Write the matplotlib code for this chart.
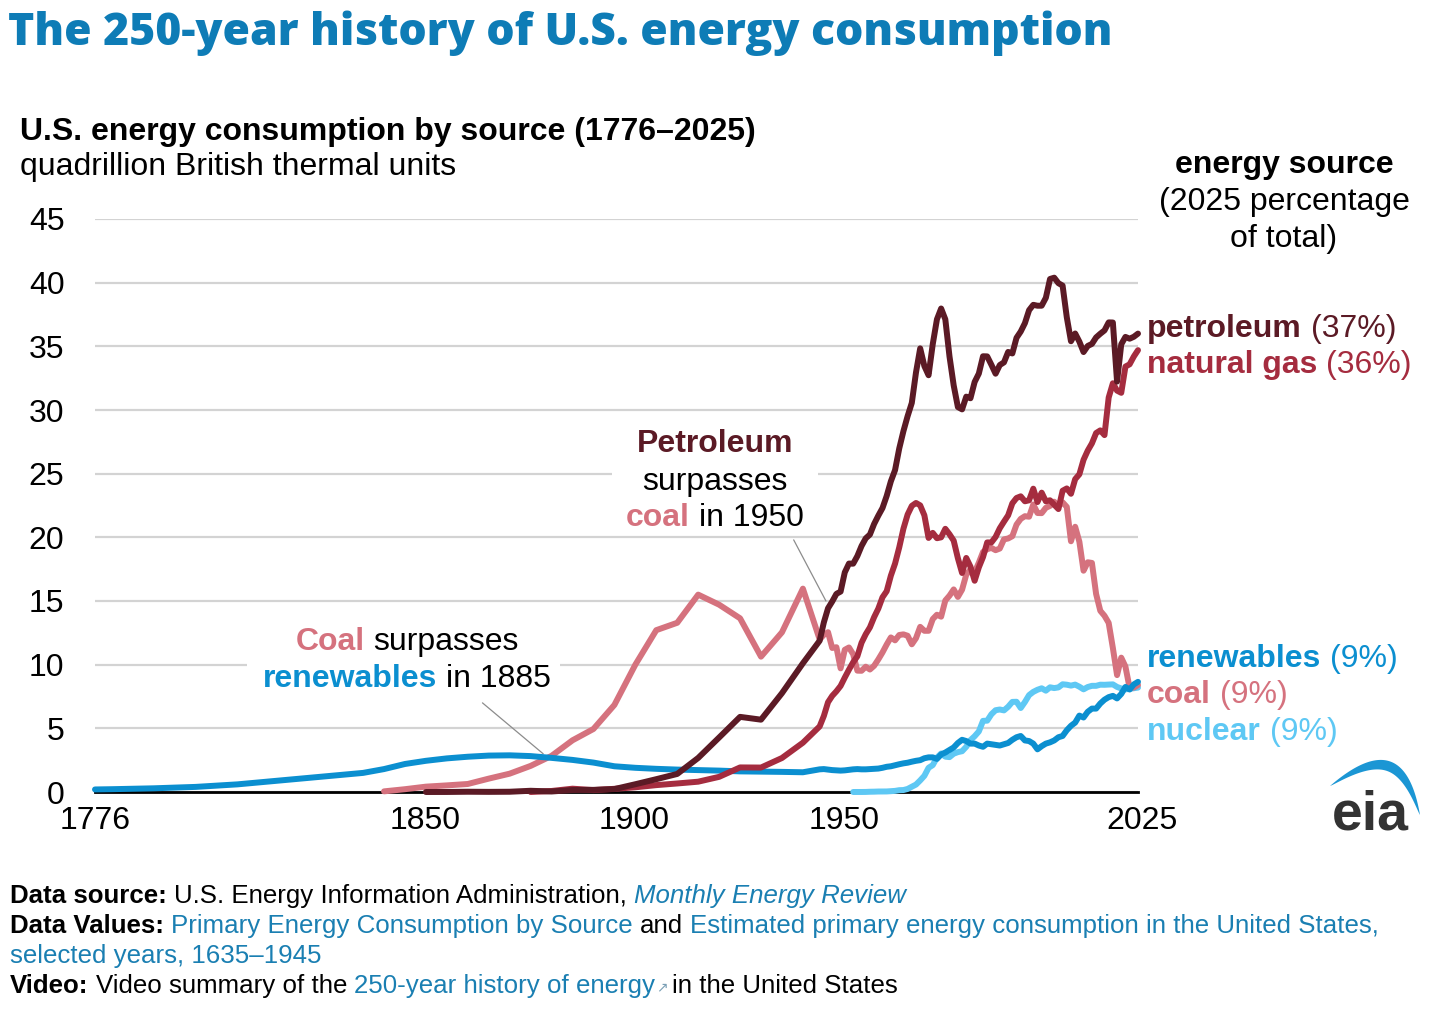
import numpy as np
import matplotlib
matplotlib.use('Agg')
import matplotlib.pyplot as plt
from matplotlib.patches import Rectangle, Polygon
from matplotlib.transforms import ScaledTranslation

# ---- data (quadrillion Btu) ----
nan = np.nan
early_years = [1776, 1780, 1790, 1800, 1810, 1820, 1830, 1840,
               1845, 1850, 1855, 1860, 1865, 1870, 1875, 1880, 1885, 1890, 1895,
               1900, 1905, 1910, 1915, 1920, 1925, 1930, 1935, 1940, 1945]
annual_years = list(range(1949, 2026))

renew_early = [0.20, 0.22, 0.29, 0.40, 0.60, 0.90, 1.20, 1.50,
               1.80, 2.20, 2.45, 2.64, 2.77, 2.86, 2.88, 2.82, 2.68, 2.52, 2.31,
               2.02, 1.90, 1.82, 1.76, 1.72, 1.68, 1.62, 1.60, 1.58, 1.55]
coal_early = [nan, nan, nan, nan, nan, nan, nan, nan,
              0.05, 0.22, 0.42, 0.52, 0.63, 1.05, 1.44, 2.05, 2.84, 4.06, 4.95,
              6.84, 10.00, 12.71, 13.29, 15.50, 14.71, 13.64, 10.63, 12.54, 15.97]
petro_early = [nan, nan, nan, nan, nan, nan, nan, nan,
               nan, nan, 0.00, 0.003, 0.02, 0.011, 0.02, 0.096, 0.04, 0.156, 0.168,
               0.229, 0.61, 1.007, 1.418, 2.676, 4.28, 5.90, 5.68, 7.76, 10.11]
gas_early = [nan, nan, nan, nan, nan, nan, nan, nan,
             nan, nan, nan, nan, nan, nan, nan, 0.00, 0.08, 0.26, 0.15,
             0.25, 0.37, 0.54, 0.67, 0.81, 1.19, 1.93, 1.92, 2.67, 3.87]
nuclear_early = [nan] * len(early_years)

# 1949-2025
renew_annual = [1.78, 1.80, 1.76, 1.72, 1.70, 1.68, 1.70, 1.74, 1.78, 1.80,
                1.78, 1.78, 1.80, 1.82, 1.84, 1.90, 1.98, 2.02, 2.10, 2.18,
                2.25, 2.30, 2.38, 2.45, 2.50, 2.65, 2.72, 2.72, 2.60, 2.95,
                3.10, 3.30, 3.50, 3.85, 4.10, 4.00, 3.80, 3.80, 3.65, 3.55,
                3.80, 3.75, 3.70, 3.65, 3.75, 3.85, 4.10, 4.30, 4.40, 4.05,
                4.00, 3.80, 3.35, 3.60, 3.80, 3.90, 4.05, 4.30, 4.40, 4.85,
                5.20, 5.45, 6.00, 5.85, 6.30, 6.55, 6.55, 6.95, 7.25, 7.45,
                7.55, 7.35, 7.70, 8.25, 8.05, 8.45, 8.65]
coal_annual = [11.98, 12.35, 12.55, 11.31, 11.37, 9.71, 11.17, 11.35, 10.82, 9.53,
               9.52, 9.84, 9.62, 9.91, 10.41, 10.96, 11.58, 12.14, 11.91, 12.33,
               12.38, 12.27, 11.60, 12.08, 12.97, 12.66, 12.66, 13.58, 13.92, 13.77,
               15.04, 15.42, 15.91, 15.32, 15.89, 17.07, 17.48, 17.26, 18.01, 18.85,
               19.07, 19.17, 18.99, 19.12, 19.84, 19.91, 20.09, 21.00, 21.45, 21.66,
               21.62, 22.58, 21.91, 21.90, 22.32, 22.47, 22.80, 22.45, 22.75, 22.39,
               19.69, 20.83, 19.66, 17.38, 18.04, 17.99, 15.55, 14.23, 13.84, 13.28,
               11.31, 9.18, 10.55, 9.85, 8.17, 8.20, 8.40]
petro_annual = [11.88, 13.32, 14.43, 14.96, 15.56, 15.74, 17.25, 17.94, 17.93, 18.53,
                19.32, 19.92, 20.22, 21.05, 21.70, 22.30, 23.25, 24.40, 25.28, 26.98,
                28.34, 29.52, 30.56, 32.95, 34.84, 33.45, 32.73, 35.17, 37.12, 37.97,
                37.12, 34.20, 31.93, 30.23, 30.05, 31.05, 30.92, 32.20, 32.86, 34.22,
                34.21, 33.55, 32.85, 33.53, 33.74, 34.56, 34.44, 35.67, 36.16, 36.82,
                37.84, 38.26, 38.19, 38.19, 38.81, 40.29, 40.39, 39.96, 39.77, 37.28,
                35.40, 36.01, 35.37, 34.55, 35.03, 35.19, 35.70, 35.99, 36.25, 36.88,
                36.87, 32.23, 35.16, 35.74, 35.60, 35.75, 36.00]
gas_annual = [5.15, 5.97, 7.05, 7.55, 7.91, 8.33, 8.99, 9.61, 10.19, 10.66,
              11.72, 12.39, 12.93, 13.73, 14.40, 15.29, 15.77, 16.99, 17.94, 19.21,
              20.68, 21.79, 22.47, 22.70, 22.51, 21.73, 19.95, 20.35, 19.93, 20.00,
              20.67, 20.24, 19.74, 18.36, 17.20, 18.38, 17.70, 16.59, 17.64, 18.45,
              19.60, 19.60, 20.03, 20.71, 21.23, 21.73, 22.67, 23.09, 23.22, 22.83,
              22.91, 23.82, 22.77, 23.51, 22.83, 22.91, 22.56, 22.22, 23.66, 23.84,
              23.42, 24.57, 24.95, 26.09, 26.81, 27.38, 28.19, 28.40, 28.03, 30.98,
              32.10, 31.52, 31.35, 33.41, 33.59, 34.20, 34.70]
nuclear_annual = [nan, nan, nan, nan, nan, nan, nan, nan, 0.000, 0.002,
                  0.002, 0.006, 0.020, 0.026, 0.038, 0.040, 0.043, 0.064, 0.088, 0.142,
                  0.154, 0.239, 0.413, 0.584, 0.910, 1.272, 1.900, 2.111, 2.702, 3.024,
                  2.776, 2.739, 3.008, 3.131, 3.203, 3.553, 4.076, 4.380, 4.754, 5.587,
                  5.602, 6.104, 6.422, 6.479, 6.410, 6.694, 7.075, 7.087, 6.597, 7.068,
                  7.610, 7.862, 8.029, 8.145, 7.959, 8.222, 8.161, 8.215, 8.459, 8.426,
                  8.355, 8.434, 8.269, 8.062, 8.244, 8.338, 8.337, 8.427, 8.419, 8.438,
                  8.452, 8.251, 8.131, 8.061, 8.100, 8.150, 8.200]

label_names = ['petroleum', 'natural gas', 'renewables', 'coal', 'nuclear']
label_pcts = [37, 36, 9, 9, 9]
x_ticks = [1776, 1850, 1900, 1950, 2025]
y_ticks = [0, 5, 10, 15, 20, 25, 30, 35, 40, 45]

# ---- style ----
c_title = '#0e7cb6'
c_pet = '#5b1a25'
c_gas = '#a52c3f'
c_coal = '#d5727e'
c_ren = '#0b8fd0'
c_nuc = '#5ec8f4'
c_link = '#1a7fb2'
FAM = ['Liberation Sans', 'DejaVu Sans']
plt.rcParams['font.family'] = FAM

W, H = 1456, 1013
fig = plt.figure(figsize=(W / 100, H / 100), dpi=100)


def fx(px):
    return px / W


def fy(py):
    return 1 - py / H


ax = fig.add_axes([fx(95), fy(792), 1043 / W, 573 / H])

years = np.array(early_years + annual_years, dtype=float)
series = [
    (nuclear_early + nuclear_annual, c_nuc, 2),
    (coal_early + coal_annual, c_coal, 3),
    (renew_early + renew_annual, c_ren, 4),
    (gas_early + gas_annual, c_gas, 5),
    (petro_early + petro_annual, c_pet, 6),
]
for vals, col, z in series:
    v = np.array(vals, dtype=float)
    m = ~np.isnan(v)
    ax.plot(years[m], v[m], color=col, lw=4.3, zorder=z, clip_on=False,
            solid_joinstyle='round', solid_capstyle='round')

ax.set_xlim(1776, 2025)
ax.set_ylim(0, 45)
ax.set_yticks(y_ticks)
ax.set_xticks(x_ticks)
ax.set_axisbelow(True)
ax.grid(axis='y', color='#d3d3d3', lw=1.6)
for s in ['top', 'right', 'left']:
    ax.spines[s].set_visible(False)
ax.spines['bottom'].set_linewidth(2)
ax.spines['bottom'].set_zorder(1.5)
ax.tick_params(axis='both', length=0, labelsize=23)
ax.tick_params(axis='y', pad=22)
ax.tick_params(axis='x', pad=10)
for lab in ax.get_xticklabels()[1:4]:
    lab.set_transform(lab.get_transform() + ScaledTranslation(0.2, 0, fig.dpi_scale_trans))
ax.get_xticklabels()[-1].set_transform(
    ax.get_xticklabels()[-1].get_transform() + ScaledTranslation(0.04, 0, fig.dpi_scale_trans))

# white backgrounds behind the annotations
for x0, y0, x1, y1 in [(247, 616, 560, 702), (612, 418, 818, 532)]:
    ax.add_patch(Rectangle((fx(x0), fy(y1)), fx(x1) - fx(x0), fy(y0) - fy(y1),
                           transform=fig.transFigure, facecolor='white',
                           edgecolor='none', zorder=1, clip_on=False))

# leader lines
ax.annotate('', xy=(1883, 3.0), xytext=(1868.5, 7.0),
            arrowprops=dict(arrowstyle='-', color='#8c8c8c', lw=0.9,
                            shrinkA=0, shrinkB=0))
ax.annotate('', xy=(1950.5, 15.0), xytext=(1942.8, 19.8),
            arrowprops=dict(arrowstyle='-', color='#8c8c8c', lw=0.9,
                            shrinkA=0, shrinkB=0))

renderer = fig.canvas.get_renderer()


def space_width(size, family):
    a = fig.text(0, 0, 'x x', fontsize=size, family=family)
    b = fig.text(0, 0, 'xx', fontsize=size, family=family)
    w = a.get_window_extent(renderer).width - b.get_window_extent(renderer).width
    a.remove()
    b.remove()
    return w


def rich(x, y, parts, size, ha='left', family=FAM):
    # parts: (text, color, weight, style, gap_before)
    sp = space_width(size, family)
    items = []
    for s, c, wgt, sty, gap in parts:
        t = fig.text(0, fy(y), s, color=c, fontweight=wgt, fontstyle=sty,
                     fontsize=size, family=family, va='baseline')
        items.append((t, t.get_window_extent(renderer).width, gap))
    total = sum(w for _, w, _ in items) + sp * sum(1 for _, _, g in items if g)
    cur = x - total / 2 if ha == 'center' else x
    for t, w, gap in items:
        if gap:
            cur += sp
        t.set_x(fx(cur))
        cur += w
    return cur


# titles
fig.text(fx(8), fy(45), 'The 250-year history of U.S. energy consumption',
         family=['Open Sans', 'DejaVu Sans'], fontweight=800, fontsize=32,
         color=c_title, va='baseline')
fig.text(fx(20), fy(140), 'U.S. energy consumption by source (1776\u20132025)',
         fontsize=23, fontweight='bold', va='baseline')
fig.text(fx(20), fy(175), 'quadrillion British thermal units', fontsize=23, va='baseline')

fig.text(fx(1284), fy(173), 'energy source', fontsize=23, fontweight='bold',
         ha='center', va='baseline')
fig.text(fx(1284), fy(210), '(2025 percentage', fontsize=23, ha='center', va='baseline')
fig.text(fx(1284), fy(247), 'of total)', fontsize=23, ha='center', va='baseline')

# series labels at the right
lab_cols = [c_pet, c_gas, c_ren, c_coal, c_nuc]
lab_base = [337, 373, 667, 703, 740]
for name, pct, col, yb in zip(label_names, label_pcts, lab_cols, lab_base):
    rich(1147, yb, [(name, col, 'bold', 'normal', False),
                    ('(%d%%)' % pct, col, 'normal', 'normal', True)], 23)

# annotations
rich(407, 650, [('Coal', c_coal, 'bold', 'normal', False),
                ('surpasses', 'black', 'normal', 'normal', True)], 23, ha='center')
rich(407, 687, [('renewables', c_ren, 'bold', 'normal', False),
                ('in 1885', 'black', 'normal', 'normal', True)], 23, ha='center')
rich(715, 452, [('Petroleum', c_pet, 'bold', 'normal', False)], 23, ha='center')
rich(715, 490, [('surpasses', 'black', 'normal', 'normal', False)], 23, ha='center')
rich(715, 526, [('coal', c_coal, 'bold', 'normal', False),
                ('in 1950', 'black', 'normal', 'normal', True)], 23, ha='center')

# footer
fs = 18.65
rich(10, 903, [('Data source:', 'black', 'bold', 'normal', False),
               ('U.S. Energy Information Administration,', 'black', 'normal', 'normal', True),
               ('Monthly Energy Review', c_link, 'normal', 'italic', True)], fs)
rich(10, 933, [('Data Values:', 'black', 'bold', 'normal', False),
               ('Primary Energy Consumption by Source', c_link, 'normal', 'normal', True),
               ('and', 'black', 'normal', 'normal', True),
               ('Estimated primary energy consumption in the United States,', c_link,
                'normal', 'normal', True)], fs)
rich(10, 963, [('selected years, 1635\u20131945', c_link, 'normal', 'normal', False)], fs)
vid_end = rich(10, 993, [('Video:', 'black', 'bold', 'normal', False),
                         ('Video summary of the', 'black', 'normal', 'normal', True),
                         ('250-year history of energy', c_link, 'normal', 'normal', True)], fs)
fig.text(fx(vid_end + 1), fy(991), '\u2197', fontsize=10, color='#7a9fb5',
         family=['DejaVu Sans'], va='baseline')
rich(vid_end + 17, 993, [('in the United States', 'black', 'normal', 'normal', False)], fs)

# eia logo
fig.text(fx(1370), fy(829), 'eia', fontsize=40, fontweight='bold', color='#333333',
         ha='center', va='baseline')
t = np.linspace(0, 1, 80)
p0 = np.array([1330, H - 786])
p1 = np.array([1404, H - 722])
p2 = np.array([1420, H - 815])
pts = ((1 - t) ** 2)[:, None] * p0 + (2 * (1 - t) * t)[:, None] * p1 + (t ** 2)[:, None] * p2
d = 2 * (1 - t)[:, None] * (p1 - p0) + 2 * t[:, None] * (p2 - p1)
nrm = np.stack([-d[:, 1], d[:, 0]], axis=1)
nrm /= np.linalg.norm(nrm, axis=1)[:, None]
thick = 10 * np.sin(np.pi * t) ** 0.8
inner = pts - nrm * thick[:, None]
poly = np.vstack([pts, inner[::-1]])
poly = np.column_stack([poly[:, 0] / W, poly[:, 1] / H])
fig.patches.append(Polygon(poly, closed=True, transform=fig.transFigure,
                           facecolor='#1b96d4', edgecolor='none'))

fig.savefig('out.png', dpi=100)
